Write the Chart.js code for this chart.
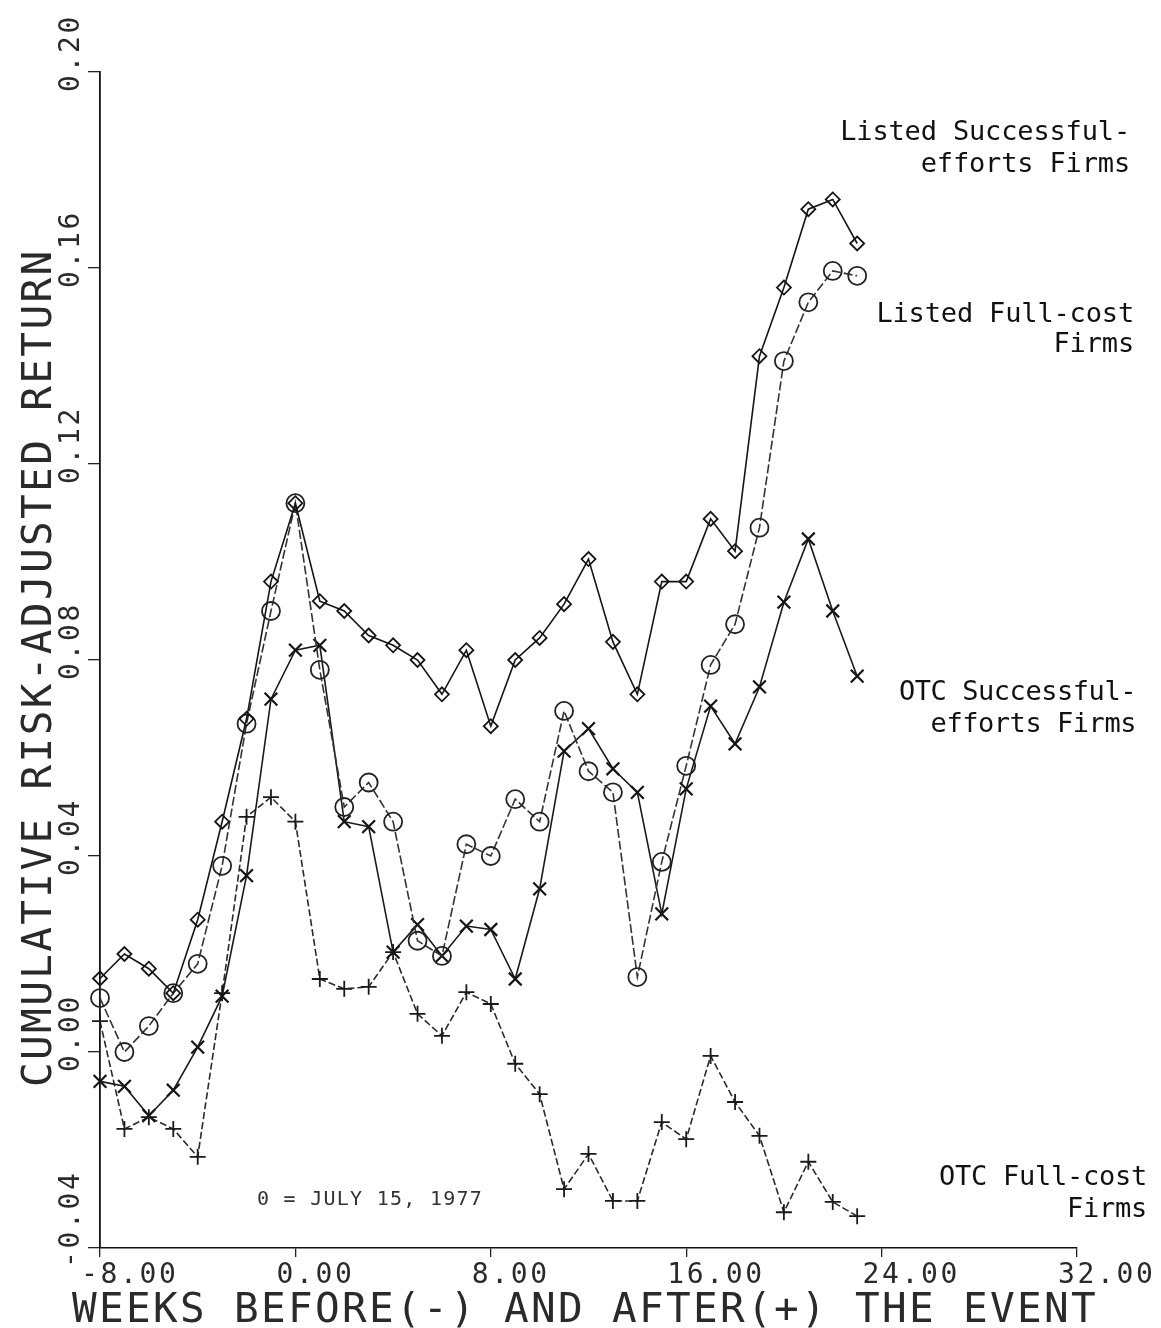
<!DOCTYPE html>
<html>
<head>
<meta charset="utf-8">
<title>Cumulative risk-adjusted return</title>
<script src="https://cdn.jsdelivr.net/npm/chart.js@4"></script>
<style>
  html, body { margin: 0; padding: 0; background: #fff; }
  canvas { display: block; }
</style>
</head>
<body>
<canvas id="chart" width="1161" height="1328"></canvas>
<script>
// weeks relative to the event (0 = July 15, 1977)
const weeks = [-8, -7, -6, -5, -4, -3, -2, -1, 0, 1, 2, 3, 4, 5, 6, 7,
               8, 9, 10, 11, 12, 13, 14, 15, 16, 17, 18, 19, 20, 21, 22, 23];

// values
const listedSE = [0.015, 0.020, 0.017, 0.012, 0.027, 0.047, 0.068, 0.096, 0.112, 0.092, 0.090, 0.085, 0.083, 0.080, 0.073, 0.082,
                  0.0665, 0.080, 0.0845, 0.0914, 0.1006, 0.0837, 0.073, 0.096, 0.096, 0.1088, 0.1022, 0.142, 0.156, 0.172, 0.174, 0.165];
const listedFC = [0.011, 0.000, 0.0053, 0.012, 0.018, 0.038, 0.067, 0.090, 0.112, 0.078, 0.050, 0.055, 0.047, 0.0227, 0.0196, 0.0424,
                  0.040, 0.0516, 0.047, 0.0696, 0.0573, 0.053, 0.0153, 0.0388, 0.0584, 0.079, 0.0873, 0.107, 0.141, 0.153, 0.1594, 0.1584];
const otcSE = [-0.006, -0.007, -0.013, -0.0078, 0.001, 0.0114, 0.036, 0.072, 0.082, 0.083, 0.047, 0.046, 0.0204, 0.026, 0.0196, 0.0257,
               0.025, 0.0149, 0.0333, 0.0614, 0.066, 0.0578, 0.053, 0.0282, 0.0537, 0.0706, 0.0629, 0.0745, 0.0918, 0.1047, 0.090, 0.0767];
const otcFC = [0.0063, -0.0157, -0.0133, -0.0157, -0.0214, 0.012, 0.048, 0.052, 0.047, 0.0149, 0.0129, 0.0133, 0.0204, 0.0078, 0.0033, 0.0122,
               0.0098, -0.0024, -0.0086, -0.028, -0.0208, -0.0304, -0.0304, -0.0143, -0.0178, -0.0008, -0.0102, -0.0171, -0.0327, -0.0224, -0.0306, -0.0335];

// axis ticks
const xTicks = [-8, 0, 8, 16, 24, 32];
const xTickLabels = ['-8.00', '0.00', '8.00', '16.00', '24.00', '32.00'];
const yTicks = [-0.04, 0.00, 0.04, 0.08, 0.12, 0.16, 0.20];
const yTickLabels = ['-0.04', '0.00', '0.04', '0.08', '0.12', '0.16', '0.20'];

const xTitle = 'WEEKS BEFORE(-) AND AFTER(+) THE EVENT';
const yTitle = 'CUMULATIVE RISK-ADJUSTED RETURN';
const dateNote = '0 = JULY 15, 1977';

const MONO = '"DejaVu Sans Mono", "Liberation Mono", monospace';

function toPoints(values) {
    return weeks.map((w, i) => ({ x: w, y: values[i] }));
}

// draws monospaced text char by char so the pitch matches the plotter lettering
function monoText(ctx, str, x, y, size, advance, align) {
    ctx.font = size + 'px ' + MONO;
    ctx.textAlign = 'left';
    let start = x;
    if (align === 'right') start = x - str.length * advance;
    for (let i = 0; i < str.length; i++) {
        ctx.fillText(str[i], start + i * advance, y);
    }
}

const textPlugin = {
    id: 'plotterText',
    afterDraw(chart) {
        const ctx = chart.ctx;
        const xs = chart.scales.x;
        const ys = chart.scales.y;
        ctx.save();
        ctx.textBaseline = 'alphabetic';
        ctx.fillStyle = '#2a2a2a';

        // x tick labels
        xs.ticks.forEach((t, i) => {
            const px = xs.getPixelForValue(t.value);
            monoText(ctx, xTickLabels[i], px - 19, 1283, 28, 19.5);
        });

        // y tick labels, rotated
        ys.ticks.forEach((t, i) => {
            const py = ys.getPixelForValue(t.value);
            ctx.save();
            ctx.translate(79, py + 20);
            ctx.rotate(-Math.PI / 2);
            monoText(ctx, yTickLabels[i], 0, 0, 28, 19.5);
            ctx.restore();
        });

        // axis titles
        monoText(ctx, xTitle, 72, 1322, 41, 27);
        ctx.save();
        ctx.translate(51, 1087);
        ctx.rotate(-Math.PI / 2);
        monoText(ctx, yTitle, 0, 0, 41, 27.05);
        ctx.restore();

        // series labels
        ctx.fillStyle = '#111';
        monoText(ctx, 'Listed Successful-', 1130, 140, 27, 16.1, 'right');
        monoText(ctx, 'efforts Firms', 1130, 172, 27, 16.1, 'right');
        monoText(ctx, 'Listed Full-cost', 1134, 322, 27, 16.1, 'right');
        monoText(ctx, 'Firms', 1134, 352, 27, 16.1, 'right');
        monoText(ctx, 'OTC Successful-', 1136, 700, 27, 15.8, 'right');
        monoText(ctx, 'efforts Firms', 1136, 732, 27, 15.8, 'right');
        monoText(ctx, 'OTC Full-cost', 1147, 1185, 27, 16, 'right');
        monoText(ctx, 'Firms', 1147, 1217, 27, 16, 'right');

        ctx.fillStyle = '#333';
        monoText(ctx, dateNote, 257, 1205, 20, 13.3);
        ctx.restore();
    }
};

const baseSet = {
    tension: 0,
    clip: false,
    pointBackgroundColor: 'rgba(255,255,255,0)',
    pointBorderWidth: 1.8,
    borderWidth: 1.6
};

new Chart(document.getElementById('chart'), {
    type: 'line',
    data: {
        datasets: [
            Object.assign({}, baseSet, {
                label: 'Listed Successful-efforts Firms',
                data: toPoints(listedSE),
                borderColor: '#151515',
                pointBorderColor: '#151515',
                pointStyle: 'rectRot',
                pointRadius: 7
            }),
            Object.assign({}, baseSet, {
                label: 'Listed Full-cost Firms',
                data: toPoints(listedFC),
                borderColor: '#333',
                pointBorderColor: '#222',
                pointStyle: 'circle',
                pointRadius: 9,
                borderDash: [9, 3]
            }),
            Object.assign({}, baseSet, {
                label: 'OTC Successful-efforts Firms',
                data: toPoints(otcSE),
                borderColor: '#1a1a1a',
                pointBorderColor: '#151515',
                pointStyle: 'crossRot',
                pointRadius: 9,
                pointBorderWidth: 2.2
            }),
            Object.assign({}, baseSet, {
                label: 'OTC Full-cost Firms',
                data: toPoints(otcFC),
                borderColor: '#2a2a2a',
                pointBorderColor: '#1a1a1a',
                pointStyle: 'cross',
                pointRadius: 8,
                borderDash: [7, 3]
            })
        ]
    },
    options: {
        responsive: false,
        animation: false,
        devicePixelRatio: 1,
        layout: { padding: { left: 0, right: 84, top: 72, bottom: 0 } },
        plugins: {
            legend: { display: false },
            tooltip: { enabled: false }
        },
        scales: {
            x: {
                type: 'linear',
                min: -8,
                max: 32,
                afterBuildTicks: s => { s.ticks = xTicks.map(v => ({ value: v })); },
                afterFit: s => { s.height = 80; },
                ticks: { display: false },
                grid: { display: true, drawOnChartArea: false, drawTicks: true, tickLength: 9, color: '#222', lineWidth: 1.3 },
                border: { display: true, color: '#111', width: 1.6 }
            },
            y: {
                type: 'linear',
                min: -0.04,
                max: 0.20,
                afterBuildTicks: s => { s.ticks = yTicks.map(v => ({ value: v })); },
                afterFit: s => { s.width = 100; },
                ticks: { display: false },
                grid: { display: true, drawOnChartArea: false, drawTicks: true, tickLength: 12, color: '#222', lineWidth: 1.3 },
                border: { display: true, color: '#111', width: 1.8 }
            }
        }
    },
    plugins: [textPlugin]
});
</script>
</body>
</html>
